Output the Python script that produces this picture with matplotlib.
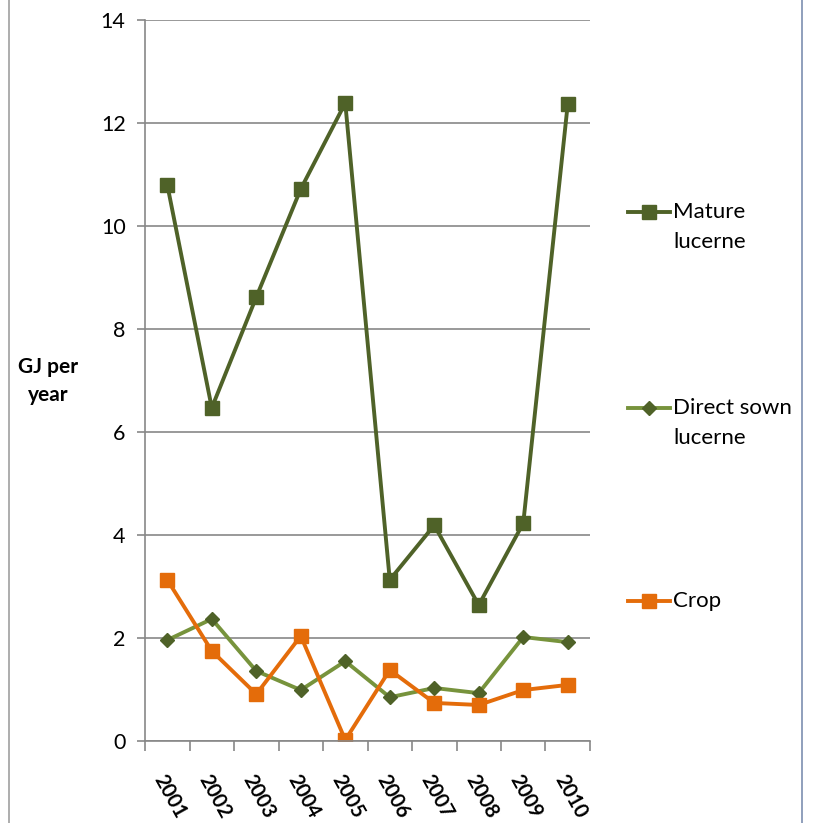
import matplotlib
matplotlib.use("Agg")
import matplotlib.pyplot as plt
from matplotlib.lines import Line2D

years = ["2001", "2002", "2003", "2004", "2005", "2006", "2007", "2008", "2009", "2010"]
mature = [10.8, 6.47, 8.62, 10.72, 12.39, 3.13, 4.19, 2.64, 4.23, 12.37]
direct = [1.96, 2.37, 1.36, 0.99, 1.55, 0.85, 1.03, 0.93, 2.02, 1.92]
crop = [3.13, 1.75, 0.91, 2.04, 0.02, 1.38, 0.74, 0.70, 0.99, 1.09]

plt.rcParams['font.family'] = ['Lato', 'DejaVu Sans']

fig = plt.figure(figsize=(8.13, 8.23), dpi=100)
ax = fig.add_axes([0.1784, 0.0996, 0.5473, 0.876])

x = list(range(len(years)))
styles = [
    (mature, ["Mature", "lucerne"], dict(color="#4F6228", marker="s", ms=10)),
    (direct, ["Direct sown", "lucerne"], dict(color="#77933C", marker="D", ms=7,
                                               mfc="#4F6228", mec="#4F6228")),
    (crop, ["Crop"], dict(color="#E46C0A", marker="s", ms=10)),
]
for vals, _, st in styles:
    ax.plot(x, vals, lw=2.8, **st)

ax.set_xlim(-0.5, len(years) - 0.5)
ax.set_ylim(0, 14)
ax.set_yticks(range(0, 15, 2))
ax.set_xticks([i - 0.5 for i in range(len(years) + 1)])
ax.set_xticklabels([])
ax.set_xticks(x, minor=True)
ax.set_xticklabels(years, minor=True, rotation=-61, ha="left", va="top",
                   rotation_mode="anchor", fontsize=14.5, fontweight="bold")
ax.tick_params(axis="x", which="minor", length=0, pad=22)
ax.tick_params(axis="x", which="major", length=7, color="#878787", width=1.2)
ax.tick_params(axis="y", length=6, color="#878787", width=1.2, labelsize=15.5, pad=8)

ax.grid(axis="y", color="#878787", lw=1.2)
ax.set_axisbelow(True)
for s in ["top", "right"]:
    ax.spines[s].set_visible(False)
for s in ["left", "bottom"]:
    ax.spines[s].set_color("#878787")
    ax.spines[s].set_linewidth(1.2)

fig.text(0.059, 0.537, "GJ per\nyear", ha="center", va="center", fontsize=15,
         fontweight="bold", linespacing=1.45)

# legend drawn by hand, Excel style (marker on first text line)
leg_y = [212, 408, 601]
for (vals, lines, st), yp in zip(styles, leg_y):
    yf = 1 - yp / 823
    fig.add_artist(Line2D([628 / 813, 670 / 813], [yf, yf], transform=fig.transFigure,
                          lw=2.8, markevery=[], **st))
    fig.add_artist(Line2D([649 / 813], [yf], transform=fig.transFigure, lw=0, **st))
    for k, t in enumerate(lines):
        fig.text(673 / 813, 1 - (yp + 30 * k) / 823, t, ha="left", va="center", fontsize=16)

fig.add_artist(Line2D([0.011, 0.011], [0, 1], transform=fig.transFigure, color="#a0a0a0", lw=1.2))
fig.add_artist(Line2D([0.987, 0.987], [0, 1], transform=fig.transFigure, color="#7d8fb0", lw=1.2))

fig.savefig("out.png", dpi=100)
